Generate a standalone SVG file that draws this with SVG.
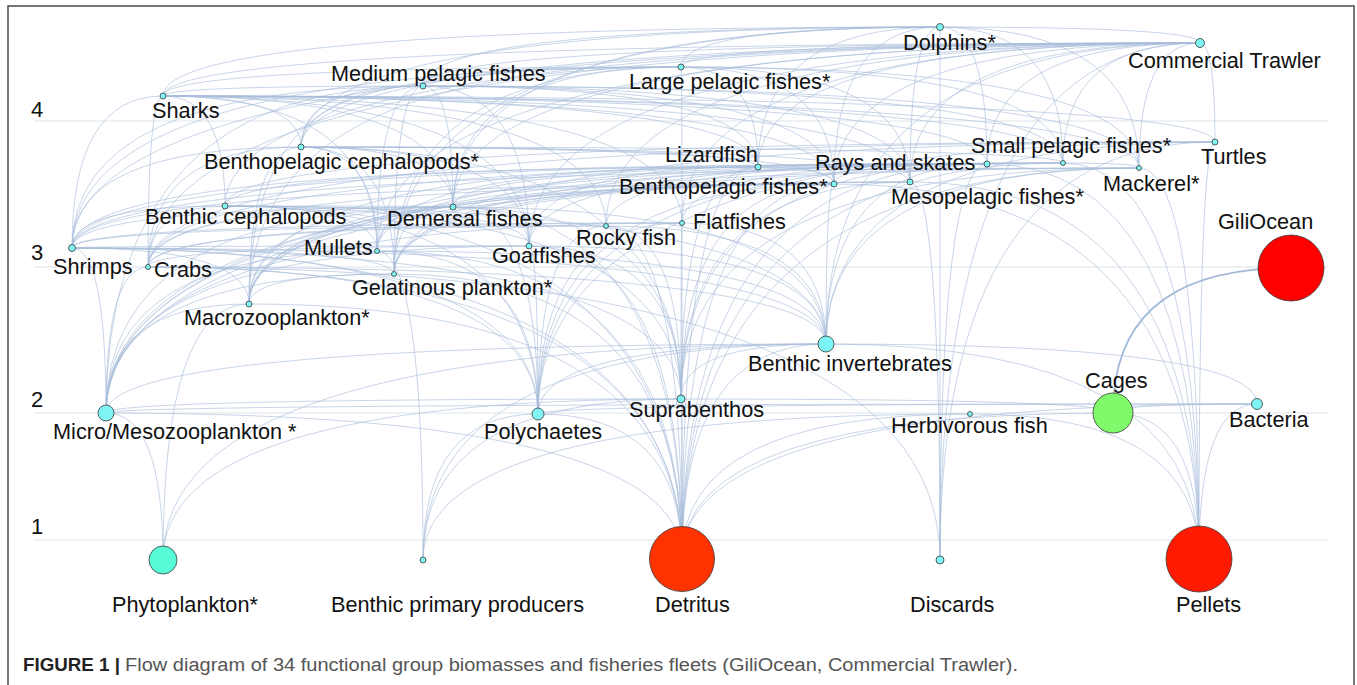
<svg xmlns="http://www.w3.org/2000/svg" width="1357" height="685" viewBox="0 0 1357 685">
<style>
.e{fill:none;stroke:#a8bddb;stroke-width:0.75;opacity:0.85}
.t{fill:none;stroke:#a3b9d9;stroke-width:1.8}
.g{stroke:#dfe4ea;stroke-width:1}
.n{fill:#7ef4f4;stroke:#3a3a3a;stroke-width:0.8}
.l{font-family:"Liberation Sans",Arial,sans-serif;font-size:21.7px;fill:#111}
.a{font-family:"Liberation Sans",Arial,sans-serif;font-size:22px;fill:#111}
.cb{font-family:"Liberation Sans",Arial,sans-serif;font-size:18px;font-weight:bold;fill:#222}
.cr{font-family:"Liberation Sans",Arial,sans-serif;font-size:18px;fill:#555}
</style>
<rect x="0" y="0" width="1357" height="685" fill="#fff"/>
<rect x="8" y="6" width="1346" height="700" fill="#fff" stroke="#4a4a4a" stroke-width="1.5"/>
<g id="grid">
<line class="g" x1="34" y1="121" x2="1328" y2="121"/>
<line class="g" x1="34" y1="267" x2="1328" y2="267"/>
<line class="g" x1="34" y1="413" x2="1328" y2="413"/>
<line class="g" x1="34" y1="540" x2="1328" y2="540"/>
<text class="a" x="31" y="117">4</text>
<text class="a" x="31" y="260">3</text>
<text class="a" x="31" y="407">2</text>
<text class="a" x="31" y="534">1</text>
</g>
<g id="connectors">
<path class="e" d="M1200,43 Q1200,27 940,27"/>
<path class="e" d="M163,96 Q163,43 1200,43"/>
<path class="e" d="M423,86 Q423,43 1200,43"/>
<path class="e" d="M681,67 Q681,43 1200,43"/>
<path class="e" d="M301,147 Q301,43 1200,43"/>
<path class="e" d="M758,167 Q758,43 1200,43"/>
<path class="e" d="M987,164 Q987,43 1200,43"/>
<path class="e" d="M1063,163 Q1063,43 1200,43"/>
<path class="e" d="M1215,142 Q1215,43 1200,43"/>
<path class="e" d="M1139,168 Q1139,43 1200,43"/>
<path class="e" d="M834,184 Q834,43 1200,43"/>
<path class="e" d="M910,182 Q910,43 1200,43"/>
<path class="e" d="M225,206 Q225,43 1200,43"/>
<path class="e" d="M453,207 Q453,43 1200,43"/>
<path class="e" d="M682,223 Q682,43 1200,43"/>
<path class="e" d="M606,226 Q606,43 1200,43"/>
<path class="e" d="M529,246 Q529,43 1200,43"/>
<path class="e" d="M377,251 Q377,43 1200,43"/>
<path class="e" d="M72,248 Q72,43 1200,43"/>
<path class="e" d="M148,267 Q148,43 1200,43"/>
<path class="e" d="M826,344 Q826,43 1200,43"/>
<path class="e" d="M940,560 Q940,43 1200,43"/>
<path class="e" d="M423,86 Q423,27 940,27"/>
<path class="e" d="M681,67 Q681,27 940,27"/>
<path class="e" d="M1063,163 Q1063,27 940,27"/>
<path class="e" d="M1139,168 Q1139,27 940,27"/>
<path class="e" d="M301,147 Q301,27 940,27"/>
<path class="e" d="M910,182 Q910,27 940,27"/>
<path class="e" d="M834,184 Q834,27 940,27"/>
<path class="e" d="M453,207 Q453,27 940,27"/>
<path class="e" d="M940,560 Q940,27 940,27"/>
<path class="e" d="M758,167 Q758,27 940,27"/>
<path class="e" d="M163,96 Q163,27 940,27"/>
<path class="e" d="M987,164 Q987,27 940,27"/>
<path class="e" d="M394,274 Q394,27 940,27"/>
<path class="e" d="M163,96 Q163,86 423,86"/>
<path class="e" d="M163,96 Q163,67 681,67"/>
<path class="e" d="M301,147 Q301,96 163,96"/>
<path class="e" d="M453,207 Q453,96 163,96"/>
<path class="e" d="M987,164 Q987,96 163,96"/>
<path class="e" d="M834,184 Q834,96 163,96"/>
<path class="e" d="M1063,163 Q1063,96 163,96"/>
<path class="e" d="M1139,168 Q1139,96 163,96"/>
<path class="e" d="M758,167 Q758,96 163,96"/>
<path class="e" d="M682,223 Q682,96 163,96"/>
<path class="e" d="M72,248 Q72,96 163,96"/>
<path class="e" d="M148,267 Q148,96 163,96"/>
<path class="e" d="M225,206 Q225,96 163,96"/>
<path class="e" d="M910,182 Q910,96 163,96"/>
<path class="e" d="M1215,142 Q1215,96 163,96"/>
<path class="e" d="M529,246 Q529,96 163,96"/>
<path class="e" d="M377,251 Q377,96 163,96"/>
<path class="e" d="M606,226 Q606,96 163,96"/>
<path class="e" d="M423,86 Q423,67 681,67"/>
<path class="e" d="M1063,163 Q1063,67 681,67"/>
<path class="e" d="M1139,168 Q1139,67 681,67"/>
<path class="e" d="M301,147 Q301,67 681,67"/>
<path class="e" d="M910,182 Q910,67 681,67"/>
<path class="e" d="M834,184 Q834,67 681,67"/>
<path class="e" d="M394,274 Q394,67 681,67"/>
<path class="e" d="M249,304 Q249,67 681,67"/>
<path class="e" d="M758,167 Q758,67 681,67"/>
<path class="e" d="M453,207 Q453,67 681,67"/>
<path class="e" d="M72,248 Q72,67 681,67"/>
<path class="e" d="M682,223 Q682,67 681,67"/>
<path class="e" d="M1063,163 Q1063,86 423,86"/>
<path class="e" d="M301,147 Q301,86 423,86"/>
<path class="e" d="M910,182 Q910,86 423,86"/>
<path class="e" d="M249,304 Q249,86 423,86"/>
<path class="e" d="M72,248 Q72,86 423,86"/>
<path class="e" d="M1139,168 Q1139,86 423,86"/>
<path class="e" d="M453,207 Q453,86 423,86"/>
<path class="e" d="M106,413 Q106,86 423,86"/>
<path class="e" d="M834,184 Q834,86 423,86"/>
<path class="e" d="M394,274 Q394,86 423,86"/>
<path class="e" d="M529,246 Q529,86 423,86"/>
<path class="e" d="M377,251 Q377,86 423,86"/>
<path class="e" d="M758,167 Q758,86 423,86"/>
<path class="e" d="M394,274 Q394,142 1215,142"/>
<path class="e" d="M826,344 Q826,142 1215,142"/>
<path class="e" d="M148,267 Q148,142 1215,142"/>
<path class="e" d="M225,206 Q225,142 1215,142"/>
<path class="e" d="M1199,558 Q1199,142 1215,142"/>
<path class="e" d="M538,414 Q538,142 1215,142"/>
<path class="e" d="M940,560 Q940,142 1215,142"/>
<path class="e" d="M72,248 Q72,147 301,147"/>
<path class="e" d="M249,304 Q249,147 301,147"/>
<path class="e" d="M1063,163 Q1063,147 301,147"/>
<path class="e" d="M910,182 Q910,147 301,147"/>
<path class="e" d="M834,184 Q834,147 301,147"/>
<path class="e" d="M453,207 Q453,147 301,147"/>
<path class="e" d="M148,267 Q148,147 301,147"/>
<path class="e" d="M377,251 Q377,147 301,147"/>
<path class="e" d="M394,274 Q394,147 301,147"/>
<path class="e" d="M681,399 Q681,147 301,147"/>
<path class="e" d="M758,167 Q758,147 301,147"/>
<path class="e" d="M529,246 Q529,147 301,147"/>
<path class="e" d="M72,248 Q72,164 987,164"/>
<path class="e" d="M148,267 Q148,164 987,164"/>
<path class="e" d="M826,344 Q826,164 987,164"/>
<path class="e" d="M538,414 Q538,164 987,164"/>
<path class="e" d="M681,399 Q681,164 987,164"/>
<path class="e" d="M682,223 Q682,164 987,164"/>
<path class="e" d="M225,206 Q225,164 987,164"/>
<path class="e" d="M453,207 Q453,164 987,164"/>
<path class="e" d="M529,246 Q529,164 987,164"/>
<path class="e" d="M377,251 Q377,164 987,164"/>
<path class="e" d="M606,226 Q606,164 987,164"/>
<path class="e" d="M682,558 Q682,164 987,164"/>
<path class="e" d="M940,560 Q940,164 987,164"/>
<path class="e" d="M1199,558 Q1199,164 987,164"/>
<path class="e" d="M834,184 Q834,164 987,164"/>
<path class="e" d="M72,248 Q72,167 758,167"/>
<path class="e" d="M834,184 Q834,167 758,167"/>
<path class="e" d="M758,167 Q758,163 1063,163"/>
<path class="e" d="M529,246 Q529,167 758,167"/>
<path class="e" d="M249,304 Q249,167 758,167"/>
<path class="e" d="M681,399 Q681,167 758,167"/>
<path class="e" d="M377,251 Q377,167 758,167"/>
<path class="e" d="M682,558 Q682,167 758,167"/>
<path class="e" d="M106,413 Q106,163 1063,163"/>
<path class="e" d="M249,304 Q249,163 1063,163"/>
<path class="e" d="M682,558 Q682,163 1063,163"/>
<path class="e" d="M1199,558 Q1199,163 1063,163"/>
<path class="e" d="M394,274 Q394,163 1063,163"/>
<path class="e" d="M106,413 Q106,168 1139,168"/>
<path class="e" d="M249,304 Q249,168 1139,168"/>
<path class="e" d="M1139,168 Q1139,163 1063,163"/>
<path class="e" d="M681,399 Q681,168 1139,168"/>
<path class="e" d="M72,248 Q72,168 1139,168"/>
<path class="e" d="M1199,558 Q1199,168 1139,168"/>
<path class="e" d="M682,558 Q682,168 1139,168"/>
<path class="e" d="M826,344 Q826,168 1139,168"/>
<path class="e" d="M249,304 Q249,184 834,184"/>
<path class="e" d="M72,248 Q72,184 834,184"/>
<path class="e" d="M106,413 Q106,184 834,184"/>
<path class="e" d="M681,399 Q681,184 834,184"/>
<path class="e" d="M538,414 Q538,184 834,184"/>
<path class="e" d="M826,344 Q826,184 834,184"/>
<path class="e" d="M148,267 Q148,184 834,184"/>
<path class="e" d="M394,274 Q394,184 834,184"/>
<path class="e" d="M682,558 Q682,184 834,184"/>
<path class="e" d="M1199,558 Q1199,184 834,184"/>
<path class="e" d="M106,413 Q106,182 910,182"/>
<path class="e" d="M249,304 Q249,182 910,182"/>
<path class="e" d="M394,274 Q394,182 910,182"/>
<path class="e" d="M940,560 Q940,182 910,182"/>
<path class="e" d="M1199,558 Q1199,182 910,182"/>
<path class="e" d="M681,399 Q681,182 910,182"/>
<path class="e" d="M148,267 Q148,206 225,206"/>
<path class="e" d="M72,248 Q72,206 225,206"/>
<path class="e" d="M826,344 Q826,206 225,206"/>
<path class="e" d="M453,207 Q453,206 225,206"/>
<path class="e" d="M538,414 Q538,206 225,206"/>
<path class="e" d="M377,251 Q377,206 225,206"/>
<path class="e" d="M529,246 Q529,206 225,206"/>
<path class="e" d="M681,399 Q681,206 225,206"/>
<path class="e" d="M682,558 Q682,206 225,206"/>
<path class="e" d="M72,248 Q72,207 453,207"/>
<path class="e" d="M148,267 Q148,207 453,207"/>
<path class="e" d="M826,344 Q826,207 453,207"/>
<path class="e" d="M538,414 Q538,207 453,207"/>
<path class="e" d="M681,399 Q681,207 453,207"/>
<path class="e" d="M249,304 Q249,207 453,207"/>
<path class="e" d="M377,251 Q377,207 453,207"/>
<path class="e" d="M529,246 Q529,207 453,207"/>
<path class="e" d="M394,274 Q394,207 453,207"/>
<path class="e" d="M106,413 Q106,207 453,207"/>
<path class="e" d="M682,558 Q682,207 453,207"/>
<path class="e" d="M538,414 Q538,223 682,223"/>
<path class="e" d="M826,344 Q826,223 682,223"/>
<path class="e" d="M681,399 Q681,223 682,223"/>
<path class="e" d="M72,248 Q72,223 682,223"/>
<path class="e" d="M148,267 Q148,223 682,223"/>
<path class="e" d="M682,558 Q682,223 682,223"/>
<path class="e" d="M106,413 Q106,223 682,223"/>
<path class="e" d="M538,414 Q538,226 606,226"/>
<path class="e" d="M826,344 Q826,226 606,226"/>
<path class="e" d="M148,267 Q148,226 606,226"/>
<path class="e" d="M72,248 Q72,226 606,226"/>
<path class="e" d="M681,399 Q681,226 606,226"/>
<path class="e" d="M682,558 Q682,226 606,226"/>
<path class="e" d="M538,414 Q538,246 529,246"/>
<path class="e" d="M826,344 Q826,246 529,246"/>
<path class="e" d="M681,399 Q681,246 529,246"/>
<path class="e" d="M148,267 Q148,246 529,246"/>
<path class="e" d="M72,248 Q72,246 529,246"/>
<path class="e" d="M682,558 Q682,246 529,246"/>
<path class="e" d="M106,413 Q106,246 529,246"/>
<path class="e" d="M538,414 Q538,251 377,251"/>
<path class="e" d="M826,344 Q826,251 377,251"/>
<path class="e" d="M682,558 Q682,251 377,251"/>
<path class="e" d="M423,560 Q423,251 377,251"/>
<path class="e" d="M106,413 Q106,251 377,251"/>
<path class="e" d="M538,414 Q538,248 72,248"/>
<path class="e" d="M826,344 Q826,248 72,248"/>
<path class="e" d="M681,399 Q681,248 72,248"/>
<path class="e" d="M106,413 Q106,248 72,248"/>
<path class="e" d="M682,558 Q682,248 72,248"/>
<path class="e" d="M249,304 Q249,248 72,248"/>
<path class="e" d="M394,274 Q394,248 72,248"/>
<path class="e" d="M538,414 Q538,267 148,267"/>
<path class="e" d="M826,344 Q826,267 148,267"/>
<path class="e" d="M682,558 Q682,267 148,267"/>
<path class="e" d="M940,560 Q940,267 148,267"/>
<path class="e" d="M106,413 Q106,267 148,267"/>
<path class="e" d="M106,413 Q106,274 394,274"/>
<path class="e" d="M249,304 Q249,274 394,274"/>
<path class="e" d="M682,558 Q682,274 394,274"/>
<path class="e" d="M106,413 Q106,304 249,304"/>
<path class="e" d="M163,560 Q163,304 249,304"/>
<path class="e" d="M682,558 Q682,304 249,304"/>
<path class="e" d="M682,558 Q682,344 826,344"/>
<path class="e" d="M538,414 Q538,344 826,344"/>
<path class="e" d="M681,399 Q681,344 826,344"/>
<path class="e" d="M106,413 Q106,344 826,344"/>
<path class="e" d="M163,560 Q163,344 826,344"/>
<path class="e" d="M423,560 Q423,344 826,344"/>
<path class="e" d="M1257,404 Q1257,344 826,344"/>
<path class="e" d="M1199,558 Q1199,344 826,344"/>
<path class="e" d="M682,558 Q682,399 681,399"/>
<path class="e" d="M106,413 Q106,399 681,399"/>
<path class="e" d="M163,560 Q163,399 681,399"/>
<path class="e" d="M423,560 Q423,399 681,399"/>
<path class="e" d="M682,558 Q682,414 538,414"/>
<path class="e" d="M538,414 Q538,404 1257,404"/>
<path class="e" d="M423,560 Q423,414 538,414"/>
<path class="e" d="M163,560 Q163,413 106,413"/>
<path class="e" d="M682,558 Q682,413 106,413"/>
<path class="e" d="M106,413 Q106,404 1257,404"/>
<path class="e" d="M423,560 Q423,414 970,414"/>
<path class="e" d="M682,558 Q682,414 970,414"/>
<path class="e" d="M1199,558 Q1199,414 970,414"/>
<path class="e" d="M1199,558 Q1199,413 1113,413"/>
<path class="e" d="M682,558 Q682,413 1113,413"/>
<path class="e" d="M1113,413 Q1113,399 681,399"/>
<path class="e" d="M1113,413 Q1113,404 1257,404"/>
<path class="e" d="M682,558 Q682,404 1257,404"/>
<path class="e" d="M1199,558 Q1199,404 1257,404"/>
<path class="t" d="M1113,413 Q1113,268 1291,268"/>
</g>
<g id="n-dolphins"><circle class="n" cx="940" cy="27" r="3.5"/><text class="l" x="903" y="50">Dolphins*</text></g>
<g id="n-commercial-trawler"><circle class="n" cx="1200" cy="43" r="4.5"/><text class="l" x="1128" y="68">Commercial Trawler</text></g>
<g id="n-medium-pelagic"><circle class="n" cx="423" cy="86" r="3"/><text class="l" x="331" y="81">Medium pelagic fishes</text></g>
<g id="n-large-pelagic"><circle class="n" cx="681" cy="67" r="3"/><text class="l" x="629" y="89">Large pelagic fishes*</text></g>
<g id="n-sharks"><circle class="n" cx="163" cy="96" r="3"/><text class="l" x="152" y="118">Sharks</text></g>
<g id="n-benthopelagic-cephalopods"><circle class="n" cx="301" cy="147" r="3"/><text class="l" x="204" y="169">Benthopelagic cephalopods*</text></g>
<g id="n-lizardfish"><circle class="n" cx="758" cy="167" r="3"/><text class="l" x="665" y="162">Lizardfish</text></g>
<g id="n-rays-skates"><circle class="n" cx="987" cy="164" r="3"/><text class="l" x="815" y="170">Rays and skates</text></g>
<g id="n-small-pelagic"><circle class="n" cx="1063" cy="163" r="2.5"/><text class="l" x="971" y="153">Small pelagic fishes*</text></g>
<g id="n-turtles"><circle class="n" cx="1215" cy="142" r="3"/><text class="l" x="1201" y="164">Turtles</text></g>
<g id="n-mackerel"><circle class="n" cx="1139" cy="168" r="2.5"/><text class="l" x="1103" y="191">Mackerel*</text></g>
<g id="n-benthopelagic-fishes"><circle class="n" cx="834" cy="184" r="3"/><text class="l" x="619" y="194">Benthopelagic fishes*</text></g>
<g id="n-mesopelagic"><circle class="n" cx="910" cy="182" r="3"/><text class="l" x="891" y="204">Mesopelagic fishes*</text></g>
<g id="n-benthic-cephalopods"><circle class="n" cx="225" cy="206" r="3"/><text class="l" x="145" y="224">Benthic cephalopods</text></g>
<g id="n-demersal"><circle class="n" cx="453" cy="207" r="3"/><text class="l" x="387" y="226">Demersal fishes</text></g>
<g id="n-flatfishes"><circle class="n" cx="682" cy="223" r="2.5"/><text class="l" x="693" y="229">Flatfishes</text></g>
<g id="n-rocky-fish"><circle class="n" cx="606" cy="226" r="2.5"/><text class="l" x="576" y="245">Rocky fish</text></g>
<g id="n-goatfishes"><circle class="n" cx="529" cy="246" r="3"/><text class="l" x="492" y="263">Goatfishes</text></g>
<g id="n-mullets"><circle class="n" cx="377" cy="251" r="2.5"/><text class="l" x="304" y="255">Mullets</text></g>
<g id="n-shrimps"><circle class="n" cx="72" cy="248" r="3.5"/><text class="l" x="53" y="274">Shrimps</text></g>
<g id="n-crabs"><circle class="n" cx="148" cy="267" r="2.5"/><text class="l" x="154" y="277">Crabs</text></g>
<g id="n-gelatinous"><circle class="n" cx="394" cy="274" r="2.5"/><text class="l" x="352" y="295">Gelatinous plankton*</text></g>
<g id="n-macrozooplankton"><circle class="n" cx="249" cy="304" r="3"/><text class="l" x="184" y="325">Macrozooplankton*</text></g>
<g id="n-benthic-invertebrates"><circle class="n" cx="826" cy="344" r="8"/><text class="l" x="748" y="371">Benthic invertebrates</text></g>
<g id="n-suprabenthos"><circle class="n" cx="681" cy="399" r="4"/><text class="l" x="629" y="417">Suprabenthos</text></g>
<g id="n-polychaetes"><circle class="n" cx="538" cy="414" r="6"/><text class="l" x="484" y="439">Polychaetes</text></g>
<g id="n-micro-mesozooplankton"><circle class="n" cx="106" cy="413" r="8"/><text class="l" x="53" y="439">Micro/Mesozooplankton *</text></g>
<g id="n-herbivorous"><circle class="n" cx="970" cy="414" r="2.5"/><text class="l" x="891" y="433">Herbivorous fish</text></g>
<g id="n-cages"><circle cx="1113" cy="413" r="20" fill="#80fa6b" stroke="#3a3a3a" stroke-width="0.8"/><text class="l" x="1085" y="388">Cages</text></g>
<g id="n-bacteria"><circle class="n" cx="1257" cy="404" r="5.5"/><text class="l" x="1229" y="427">Bacteria</text></g>
<g id="n-giliocean"><circle cx="1291" cy="268" r="33" fill="#ff0000" stroke="#3a3a3a" stroke-width="0.8"/><text class="l" x="1218" y="229">GiliOcean</text></g>
<g id="n-phytoplankton"><circle cx="163" cy="560" r="14" fill="#57fbd6" stroke="#3a3a3a" stroke-width="0.8"/><text class="l" x="112" y="612">Phytoplankton*</text></g>
<g id="n-benthic-primary"><circle class="n" cx="423" cy="560" r="3"/><text class="l" x="331" y="612">Benthic primary producers</text></g>
<g id="n-detritus"><circle cx="682" cy="559" r="32.5" fill="#ff3300" stroke="#3a3a3a" stroke-width="0.8"/><text class="l" x="655" y="612">Detritus</text></g>
<g id="n-discards"><circle class="n" cx="940" cy="560" r="4"/><text class="l" x="910" y="612">Discards</text></g>
<g id="n-pellets"><circle cx="1199" cy="559" r="33" fill="#ff1a00" stroke="#3a3a3a" stroke-width="0.8"/><text class="l" x="1176" y="612">Pellets</text></g>
<g id="caption">
<text class="cb" x="23" y="671" textLength="97" lengthAdjust="spacingAndGlyphs">FIGURE 1 |</text>
<text class="cr" x="125" y="671" textLength="893" lengthAdjust="spacingAndGlyphs">Flow diagram of 34 functional group biomasses and fisheries fleets (GiliOcean, Commercial Trawler).</text>
</g>
</svg>
